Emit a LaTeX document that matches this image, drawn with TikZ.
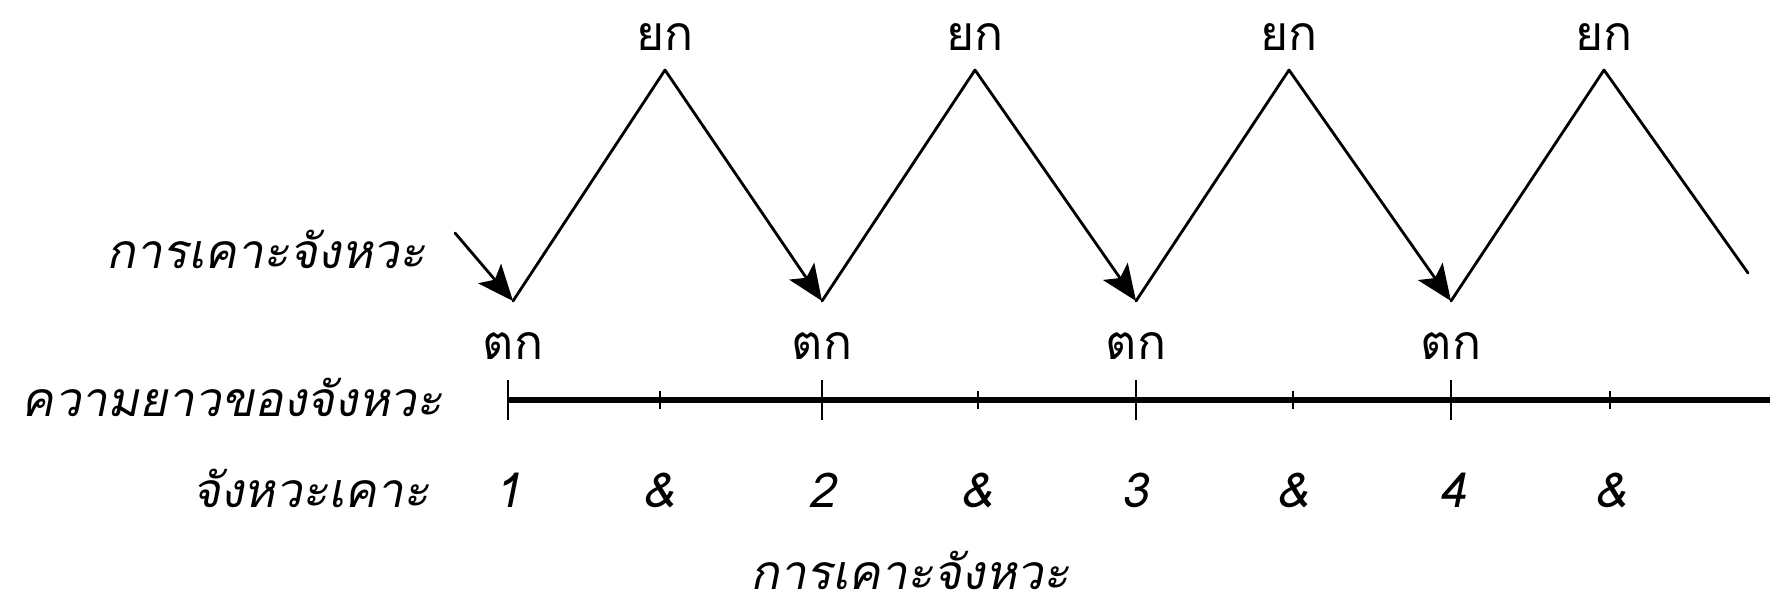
\documentclass[tikz,border=0pt]{standalone}
\usepackage{fontspec}
\newfontfamily\thaiupfont[Script=Thai]{Loma}
\newfontfamily\thaiitfont[Script=Thai,FakeSlant=0.2]{Loma}
\usetikzlibrary{arrows.meta}
\tikzset{
  zig/.style={line width=1.4pt, line cap=round, line join=round},
  zigarrow/.style={zig, -{Stealth[length=18pt, width=15pt, inset=4pt]}},
  axisline/.style={line width=3pt},
  majortick/.style={line width=1.3pt},
  minortick/.style={line width=1.1pt},
  uplabel/.style={font=\thaiupfont\fontsize{24}{28}\selectfont, inner sep=0pt, anchor=base},
  itlabel/.style={font=\thaiitfont\fontsize{24}{28}\selectfont, inner sep=0pt, anchor=base},
  leftlabel/.style={itlabel, anchor=base east}
}
\begin{document}
\begin{tikzpicture}[x=0.5pt,y=-0.5pt]
\useasboundingbox (0,0) rectangle (1783,603);
% zigzag points
\coordinate (v1) at (513,301);
\coordinate (p1) at (665,70);
\coordinate (v2) at (822,301);
\coordinate (p2) at (975,70);
\coordinate (v3) at (1136,301);
\coordinate (p3) at (1289,70);
\coordinate (v4) at (1451,301);
\coordinate (p4) at (1604,70);
\coordinate (zend) at (1748,273);
\coordinate (a0) at (455,233);
% zigzag
\draw[zig] (v1) -- (p1);
\draw[zigarrow] (p1) -- (v2);
\draw[zig] (v2) -- (p2);
\draw[zigarrow] (p2) -- (v3);
\draw[zig] (v3) -- (p3);
\draw[zigarrow] (p3) -- (v4);
\draw[zig] (v4) -- (p4);
\draw[zig] (p4) -- (zend);
\draw[zigarrow] (a0) -- (v1);
% top labels
\node[uplabel] (y1) at (665,51) {ยก};
\node[uplabel] (y2) at (975,51) {ยก};
\node[uplabel] (y3) at (1289,51) {ยก};
\node[uplabel] (y4) at (1604,51) {ยก};
% bottom labels of valleys
\node[uplabel] (t1) at (513,360) {ตก};
\node[uplabel] (t2) at (822,360) {ตก};
\node[uplabel] (t3) at (1136,360) {ตก};
\node[uplabel] (t4) at (1451,360) {ตก};
% axis
\coordinate (ax0) at (508,400);
\coordinate (ax1) at (1770,400);
\draw[axisline] (ax0) -- (ax1);
\foreach \x in {508,822,1136,1451}{
  \draw[majortick] (\x,380) -- (\x,420);
}
\foreach \x in {660,978,1293,1610}{
  \draw[minortick] (\x,391) -- (\x,409);
}
% beat labels
\node[itlabel] (b1) at (508,508) {1};
\node[itlabel] (b1a) at (658,508) {\&};
\node[itlabel] (b2) at (822,508) {2};
\node[itlabel] (b2a) at (976,508) {\&};
\node[itlabel] (b3) at (1135,508) {3};
\node[itlabel] (b3a) at (1292,508) {\&};
\node[itlabel] (b4) at (1453,508) {4};
\node[itlabel] (b4a) at (1610,508) {\&};
% left labels
\node[leftlabel] (L1) at (426,269) {การเคาะจังหวะ};
\node[leftlabel] (L2) at (443,417) {ความยาวของจังหวะ};
\node[leftlabel] (L3) at (430,508) {จังหวะเคาะ};
% bottom caption
\node[itlabel] (cap) at (910,590) {การเคาะจังหวะ};
\end{tikzpicture}
\end{document}
